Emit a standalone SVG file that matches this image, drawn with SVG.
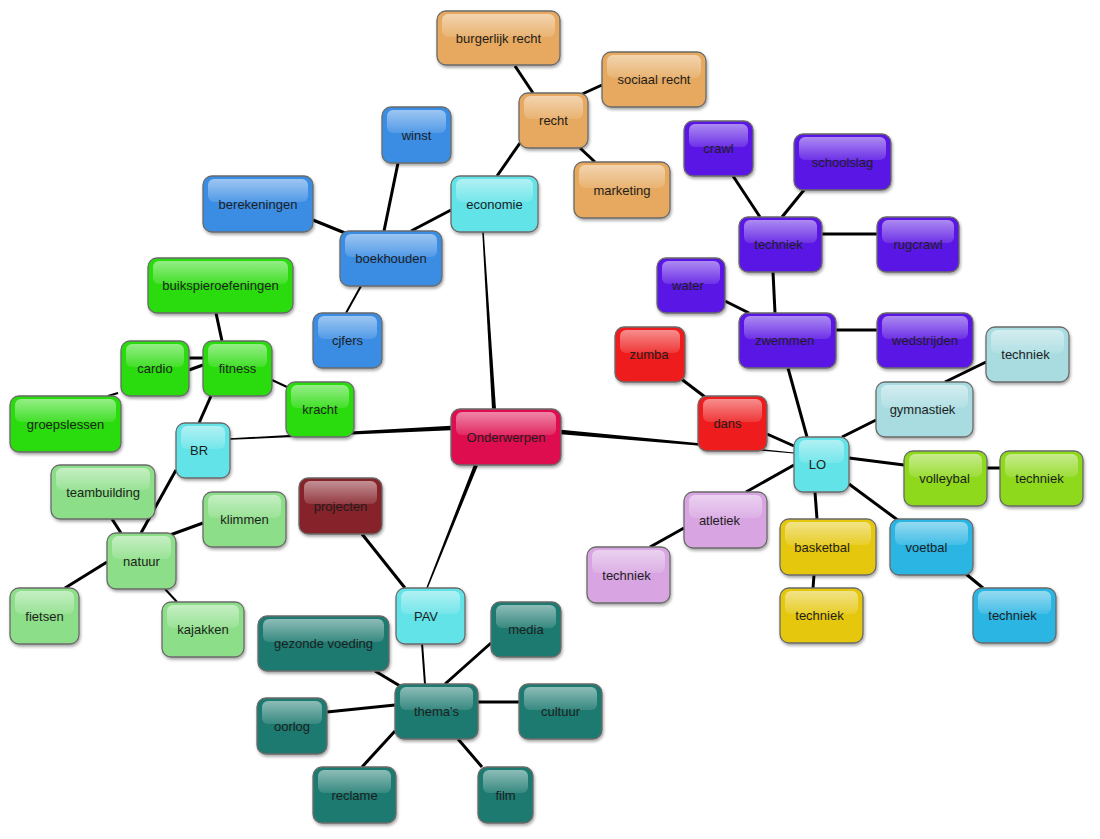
<svg xmlns="http://www.w3.org/2000/svg" width="1100" height="839" viewBox="0 0 1100 839">
<defs>
<linearGradient id="gl" x1="0" y1="0" x2="0" y2="1">
<stop offset="0" stop-color="#fff" stop-opacity="0.5"/>
<stop offset="1" stop-color="#fff" stop-opacity="0.12"/>
</linearGradient>
<filter id="sh" x="-20%" y="-20%" width="140%" height="150%">
<feDropShadow dx="1" dy="2" stdDeviation="1.6" flood-color="#000" flood-opacity="0.35"/>
</filter>
</defs>
<style>
.b{stroke:#6a6a6a;stroke-width:1.3;filter:url(#sh)}
.g{fill:url(#gl)}
text{font-family:"Liberation Sans",Arial,sans-serif;font-size:13px;fill:#1e1e1e;text-anchor:middle}
.c line{stroke:#000;stroke-width:3}
.c line.t{stroke-width:2}
.c polygon{fill:#000}
.orange .b{fill:#E6A95E}
.cyan .b{fill:#62E3E8}
.blue .b{fill:#3A8DE4}
.crimson .b{fill:#DE0F4F}
.green .b{fill:#2BDC0E}
.lgreen .b{fill:#8CDF88}
.dred .b{fill:#862129}
.teal .b{fill:#1E7A6F}
.purple .b{fill:#5A17E4}
.red .b{fill:#EE1F1E}
.lcyan .b{fill:#A8DCE1}
.ygreen .b{fill:#8FD91B}
.lpurple .b{fill:#D8A5E2}
.yellow .b{fill:#E5C70E}
.sky .b{fill:#2BB5E3}
</style>
<g id="connectors" class="c">
<line x1="515" y1="66" x2="533" y2="93"/>
<line x1="602" y1="85" x2="580" y2="95"/>
<line x1="580" y1="148" x2="595" y2="162"/>
<line x1="520" y1="143" x2="497" y2="176"/>
<line x1="451" y1="210" x2="411" y2="231"/>
<polygon points="482.25,232.05 483.75,231.95 496,408.88 492,409.12"/>
<line x1="398" y1="163" x2="384" y2="231"/>
<line x1="313" y1="220" x2="345" y2="233"/>
<line class="t" x1="361" y1="286" x2="346" y2="313"/>
<line x1="216" y1="313" x2="222" y2="341"/>
<line x1="189" y1="358" x2="203" y2="358"/>
<line x1="189" y1="370" x2="203" y2="365"/>
<line class="t" x1="118" y1="393" x2="108" y2="396"/>
<line class="t" x1="272" y1="380" x2="287" y2="387"/>
<line x1="211" y1="396" x2="199" y2="423"/>
<polygon points="230,438.25 451,425.75 451,430.25 230,439.75"/>
<line x1="176" y1="470" x2="141" y2="533"/>
<line x1="112" y1="519" x2="121" y2="533"/>
<line x1="170" y1="535" x2="203" y2="523"/>
<line x1="107" y1="562" x2="65" y2="588"/>
<line class="t" x1="165" y1="589" x2="177" y2="602"/>
<line x1="362" y1="534" x2="405" y2="588"/>
<polygon points="474.14,464.26 477.86,465.74 427.7,588.28 426.3,587.72"/>
<line class="t" x1="422" y1="643" x2="425" y2="684"/>
<line x1="375" y1="671" x2="400" y2="686"/>
<line x1="491" y1="643" x2="445" y2="684"/>
<line x1="478" y1="702" x2="519" y2="702"/>
<line x1="327" y1="712" x2="395" y2="705"/>
<line x1="395" y1="731" x2="362" y2="767"/>
<line x1="458" y1="739" x2="482" y2="767"/>
<polygon points="561.2,429.76 794.05,452.5 793.95,453.5 560.8,434.24"/>
<line x1="680" y1="378" x2="705" y2="397"/>
<line x1="767" y1="434" x2="794" y2="446"/>
<line x1="788" y1="368" x2="807" y2="437"/>
<line x1="842" y1="437" x2="876" y2="420"/>
<line x1="945" y1="382" x2="986" y2="362"/>
<line x1="849" y1="458" x2="904" y2="465"/>
<line x1="987" y1="468" x2="1000" y2="468"/>
<line x1="794" y1="465" x2="746" y2="492"/>
<line x1="684" y1="528" x2="650" y2="547"/>
<line x1="815" y1="492" x2="817" y2="519"/>
<line x1="814" y1="575" x2="813" y2="588"/>
<line x1="849" y1="484" x2="899" y2="521"/>
<line x1="966" y1="574" x2="983" y2="588"/>
<line x1="773" y1="272" x2="775" y2="313"/>
<line x1="725" y1="301" x2="749" y2="313"/>
<line x1="733" y1="176" x2="760" y2="217"/>
<line x1="804" y1="190" x2="782" y2="217"/>
<line x1="822" y1="234" x2="877" y2="234"/>
<line x1="836" y1="330" x2="877" y2="330"/>
</g>
<g id="n-burgerlijk-recht" class="orange"><rect class="b" x="437" y="11" width="123" height="54" rx="9"/><rect class="g" x="442" y="14" width="113" height="23" rx="6"/><text x="498.5" y="42.5">burgerlijk recht</text></g>
<g id="n-sociaal-recht" class="orange"><rect class="b" x="602" y="52" width="104" height="55" rx="9"/><rect class="g" x="607" y="55" width="94" height="23" rx="6"/><text x="654" y="84">sociaal recht</text></g>
<g id="n-recht" class="orange"><rect class="b" x="519" y="93" width="69" height="55" rx="9"/><rect class="g" x="524" y="96" width="59" height="23" rx="6"/><text x="553.5" y="125">recht</text></g>
<g id="n-marketing" class="orange"><rect class="b" x="574" y="162" width="96" height="56" rx="9"/><rect class="g" x="579" y="165" width="86" height="23" rx="6"/><text x="622" y="194.5">marketing</text></g>
<g id="n-economie" class="cyan"><rect class="b" x="451" y="176" width="87" height="56" rx="9"/><rect class="g" x="456" y="179" width="77" height="23" rx="6"/><text x="494.5" y="208.5">economie</text></g>
<g id="n-winst" class="blue"><rect class="b" x="382" y="107" width="69" height="56" rx="9"/><rect class="g" x="387" y="110" width="59" height="23" rx="6"/><text x="416.5" y="139.5">winst</text></g>
<g id="n-berekeningen" class="blue"><rect class="b" x="203" y="176" width="110" height="56" rx="9"/><rect class="g" x="208" y="179" width="100" height="23" rx="6"/><text x="258" y="208.5">berekeningen</text></g>
<g id="n-boekhouden" class="blue"><rect class="b" x="340" y="231" width="102" height="55" rx="9"/><rect class="g" x="345" y="234" width="92" height="23" rx="6"/><text x="391" y="263">boekhouden</text></g>
<g id="n-cjfers" class="blue"><rect class="b" x="313" y="313" width="69" height="55" rx="9"/><rect class="g" x="318" y="316" width="59" height="23" rx="6"/><text x="347.5" y="345">cjfers</text></g>
<g id="n-onderwerpen" class="crimson"><rect class="b" x="451" y="409" width="110" height="56" rx="9"/><rect class="g" x="456" y="412" width="100" height="23" rx="6"/><text x="506" y="441.5">Onderwerpen</text></g>
<g id="n-buikspieroefeningen" class="green"><rect class="b" x="148" y="258" width="145" height="55" rx="9"/><rect class="g" x="153" y="261" width="135" height="23" rx="6"/><text x="220.5" y="290">buikspieroefeningen</text></g>
<g id="n-cardio" class="green"><rect class="b" x="121" y="341" width="68" height="55" rx="9"/><rect class="g" x="126" y="344" width="58" height="23" rx="6"/><text x="155" y="373">cardio</text></g>
<g id="n-fitness" class="green"><rect class="b" x="203" y="341" width="69" height="55" rx="9"/><rect class="g" x="208" y="344" width="59" height="23" rx="6"/><text x="237.5" y="373">fitness</text></g>
<g id="n-groepslessen" class="green"><rect class="b" x="10" y="396" width="111" height="56" rx="9"/><rect class="g" x="15" y="399" width="101" height="23" rx="6"/><text x="65.5" y="428.5">groepslessen</text></g>
<g id="n-kracht" class="green"><rect class="b" x="286" y="382" width="68" height="55" rx="9"/><rect class="g" x="291" y="385" width="58" height="23" rx="6"/><text x="320" y="414">kracht</text></g>
<g id="n-br" class="cyan"><rect class="b" x="176" y="423" width="54" height="55" rx="9"/><rect class="g" x="181" y="426" width="44" height="23" rx="6"/><text x="199" y="455">BR</text></g>
<g id="n-teambuilding" class="lgreen"><rect class="b" x="51" y="465" width="104" height="54" rx="9"/><rect class="g" x="56" y="468" width="94" height="22" rx="6"/><text x="103" y="496.5">teambuilding</text></g>
<g id="n-klimmen" class="lgreen"><rect class="b" x="203" y="492" width="83" height="55" rx="9"/><rect class="g" x="208" y="495" width="73" height="23" rx="6"/><text x="244.5" y="524">klimmen</text></g>
<g id="n-natuur" class="lgreen"><rect class="b" x="107" y="533" width="69" height="56" rx="9"/><rect class="g" x="112" y="536" width="59" height="23" rx="6"/><text x="141.5" y="565.5">natuur</text></g>
<g id="n-fietsen" class="lgreen"><rect class="b" x="10" y="588" width="69" height="56" rx="9"/><rect class="g" x="15" y="591" width="59" height="23" rx="6"/><text x="44.5" y="620.5">fietsen</text></g>
<g id="n-kajakken" class="lgreen"><rect class="b" x="162" y="602" width="82" height="55" rx="9"/><rect class="g" x="167" y="605" width="72" height="23" rx="6"/><text x="203" y="634">kajakken</text></g>
<g id="n-projecten" class="dred"><rect class="b" x="299" y="478" width="83" height="56" rx="9"/><rect class="g" x="304" y="481" width="73" height="23" rx="6"/><text x="340.5" y="510.5">projecten</text></g>
<g id="n-pav" class="cyan"><rect class="b" x="396" y="588" width="69" height="56" rx="9"/><rect class="g" x="401" y="591" width="59" height="23" rx="6"/><text x="426" y="620.5">PAV</text></g>
<g id="n-gezonde-voeding" class="teal"><rect class="b" x="258" y="616" width="131" height="55" rx="9"/><rect class="g" x="263" y="619" width="121" height="23" rx="6"/><text x="323.5" y="648">gezonde voeding</text></g>
<g id="n-media" class="teal"><rect class="b" x="491" y="602" width="70" height="55" rx="9"/><rect class="g" x="496" y="605" width="60" height="23" rx="6"/><text x="526" y="634">media</text></g>
<g id="n-themas" class="teal"><rect class="b" x="395" y="684" width="83" height="55" rx="9"/><rect class="g" x="400" y="687" width="73" height="23" rx="6"/><text x="436.5" y="716">thema's</text></g>
<g id="n-cultuur" class="teal"><rect class="b" x="519" y="684" width="83" height="55" rx="9"/><rect class="g" x="524" y="687" width="73" height="23" rx="6"/><text x="560.5" y="716">cultuur</text></g>
<g id="n-oorlog" class="teal"><rect class="b" x="257" y="698" width="70" height="56" rx="9"/><rect class="g" x="262" y="701" width="60" height="23" rx="6"/><text x="292" y="730.5">oorlog</text></g>
<g id="n-reclame" class="teal"><rect class="b" x="313" y="767" width="83" height="56" rx="9"/><rect class="g" x="318" y="770" width="73" height="23" rx="6"/><text x="354.5" y="799.5">reclame</text></g>
<g id="n-film" class="teal"><rect class="b" x="478" y="767" width="55" height="56" rx="9"/><rect class="g" x="483" y="770" width="45" height="23" rx="6"/><text x="505.5" y="799.5">film</text></g>
<g id="n-crawl" class="purple"><rect class="b" x="684" y="121" width="69" height="55" rx="9"/><rect class="g" x="689" y="124" width="59" height="23" rx="6"/><text x="718.5" y="153">crawl</text></g>
<g id="n-schoolslag" class="purple"><rect class="b" x="794" y="134" width="97" height="56" rx="9"/><rect class="g" x="799" y="137" width="87" height="23" rx="6"/><text x="842.5" y="166.5">schoolslag</text></g>
<g id="n-techniek-zwem" class="purple"><rect class="b" x="739" y="217" width="83" height="55" rx="9"/><rect class="g" x="744" y="220" width="73" height="23" rx="6"/><text x="778.5" y="249">techniek</text></g>
<g id="n-rugcrawl" class="purple"><rect class="b" x="877" y="217" width="82" height="55" rx="9"/><rect class="g" x="882" y="220" width="72" height="23" rx="6"/><text x="918" y="249">rugcrawl</text></g>
<g id="n-water" class="purple"><rect class="b" x="657" y="258" width="68" height="55" rx="9"/><rect class="g" x="662" y="261" width="58" height="23" rx="6"/><text x="688" y="290">water</text></g>
<g id="n-zwemmen" class="purple"><rect class="b" x="739" y="313" width="97" height="55" rx="9"/><rect class="g" x="744" y="316" width="87" height="23" rx="6"/><text x="784.5" y="345">zwemmen</text></g>
<g id="n-wedstrijden" class="purple"><rect class="b" x="877" y="313" width="96" height="55" rx="9"/><rect class="g" x="882" y="316" width="86" height="23" rx="6"/><text x="925" y="345">wedstrijden</text></g>
<g id="n-zumba" class="red"><rect class="b" x="615" y="327" width="70" height="55" rx="9"/><rect class="g" x="620" y="330" width="60" height="23" rx="6"/><text x="649" y="359">zumba</text></g>
<g id="n-dans" class="red"><rect class="b" x="698" y="396" width="69" height="55" rx="9"/><rect class="g" x="703" y="399" width="59" height="23" rx="6"/><text x="727.5" y="428">dans</text></g>
<g id="n-techniek-gym" class="lcyan"><rect class="b" x="986" y="327" width="83" height="55" rx="9"/><rect class="g" x="991" y="330" width="73" height="23" rx="6"/><text x="1025.5" y="359">techniek</text></g>
<g id="n-gymnastiek" class="lcyan"><rect class="b" x="876" y="382" width="97" height="55" rx="9"/><rect class="g" x="881" y="385" width="87" height="23" rx="6"/><text x="922.5" y="414">gymnastiek</text></g>
<g id="n-lo" class="cyan"><rect class="b" x="794" y="437" width="55" height="55" rx="9"/><rect class="g" x="799" y="440" width="45" height="23" rx="6"/><text x="817.5" y="469">LO</text></g>
<g id="n-volleybal" class="ygreen"><rect class="b" x="904" y="451" width="83" height="55" rx="9"/><rect class="g" x="909" y="454" width="73" height="23" rx="6"/><text x="944.5" y="483">volleybal</text></g>
<g id="n-techniek-volley" class="ygreen"><rect class="b" x="1000" y="451" width="83" height="55" rx="9"/><rect class="g" x="1005" y="454" width="73" height="23" rx="6"/><text x="1039.5" y="483">techniek</text></g>
<g id="n-atletiek" class="lpurple"><rect class="b" x="684" y="492" width="83" height="56" rx="9"/><rect class="g" x="689" y="495" width="73" height="23" rx="6"/><text x="719.5" y="524.5">atletiek</text></g>
<g id="n-techniek-atl" class="lpurple"><rect class="b" x="587" y="547" width="83" height="56" rx="9"/><rect class="g" x="592" y="550" width="73" height="23" rx="6"/><text x="626.5" y="579.5">techniek</text></g>
<g id="n-basketbal" class="yellow"><rect class="b" x="780" y="519" width="96" height="56" rx="9"/><rect class="g" x="785" y="522" width="86" height="23" rx="6"/><text x="822" y="551.5">basketbal</text></g>
<g id="n-techniek-basket" class="yellow"><rect class="b" x="780" y="588" width="83" height="55" rx="9"/><rect class="g" x="785" y="591" width="73" height="23" rx="6"/><text x="819.5" y="620">techniek</text></g>
<g id="n-voetbal" class="sky"><rect class="b" x="890" y="519" width="83" height="56" rx="9"/><rect class="g" x="895" y="522" width="73" height="23" rx="6"/><text x="926.5" y="551.5">voetbal</text></g>
<g id="n-techniek-voet" class="sky"><rect class="b" x="973" y="588" width="83" height="55" rx="9"/><rect class="g" x="978" y="591" width="73" height="23" rx="6"/><text x="1012.5" y="620">techniek</text></g>
</svg>
